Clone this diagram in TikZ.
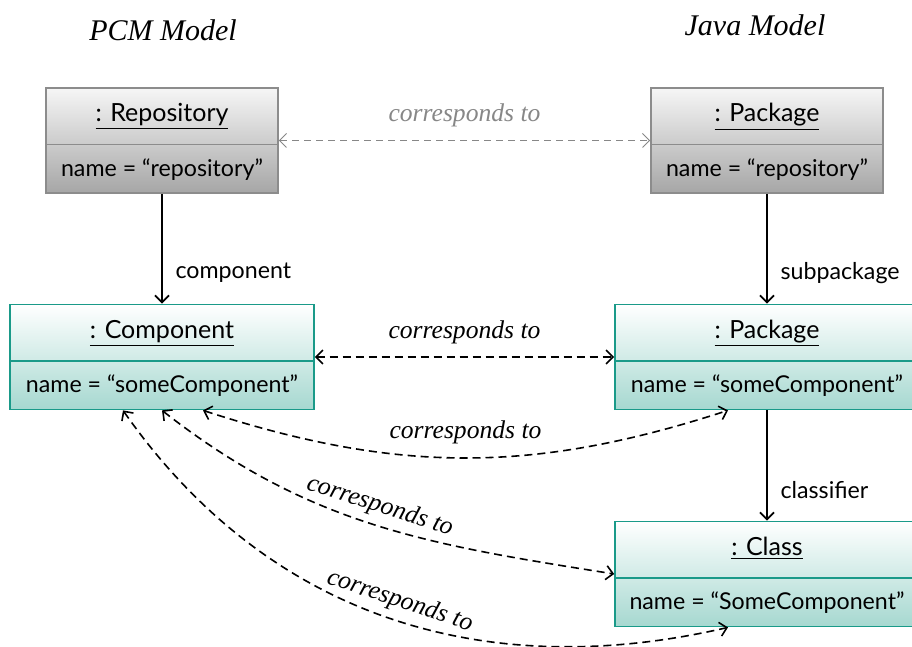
\documentclass[tikz,border=0pt]{standalone}
\usepackage{fontspec}
\setmainfont{Liberation Serif}
\setsansfont{Lato}
\usepackage{tikz}
\usetikzlibrary{shapes.multipart, arrows.meta, positioning, calc}
\definecolor{Teal-1}{RGB}{26,154,137}
\definecolor{Teal-2}{RGB}{166,216,208}
\definecolor{Grey-0}{RGB}{246,246,246}
\definecolor{Grey-1}{RGB}{140,140,140}
\definecolor{Grey-2}{RGB}{166,166,166}
\definecolor{Grey-3}{RGB}{135,135,135}
\newcommand\hdr[1]{\rule[-11pt]{0pt}{27.5pt}{\fontsize{12.5}{15}\selectfont\underline{#1}}}
\newcommand\attr[1]{\rule[-8pt]{0pt}{23.5pt}#1}

\begin{document}
\begin{tikzpicture}[x=0.5pt, y=0.5pt, >={Straight Barb[length=3.5pt, width=7pt]}]
        \tikzset{ obj/.style ={rectangle split, rectangle split parts=2, draw, line width=0.8pt, inner ysep=0pt, inner xsep=4pt, align=center, font=\sffamily\fontsize{11.6}{14}\selectfont } }
        \tikzset{ og/.style ={obj, minimum width=116pt, draw=Grey-1, top color=Grey-0, bottom color=Grey-2 } }
        \tikzset{ ot/.style ={obj, minimum width=152pt, draw=Teal-1, top color=white, bottom color=Teal-2 } }
        \tikzset{ ttl/.style ={font=\itshape\fontsize{15}{18}\selectfont } }
        \tikzset{ lbl/.style ={font=\itshape\fontsize{12.8}{15}\selectfont } }

        \tikzstyle{lnk}=[->, line width=0.9pt]
        \tikzstyle{rel}=[font=\sffamily\fontsize{11.6}{14}\selectfont, right=3pt, pos=0.72]
        \tikzstyle{crsp}=[<->, line width=0.8pt, dash pattern=on 4pt off 2.5pt]
        \tikzstyle{crspg}=[<->, line width=0.5pt, draw=Grey-3, text=Grey-3, dash pattern=on 3.5pt off 2.5pt]

        \useasboundingbox (0,0) rectangle (912,647);

        \node[ttl] (pcm) at (163,617) {PCM Model};
        \node[ttl] (java) at (755,622) {Java Model};

        \node[og] (repo) at (162,506.5) {\hdr{: Repository} \nodepart{two} \attr{name = “repository”}};
        \node[og] (pkga) at (767,506.5) {\hdr{: Package} \nodepart{two} \attr{name = “repository”}};
        \node[ot] (comp) at (162,290) {\hdr{: Component} \nodepart{two} \attr{name = “someComponent”}};
        \node[ot] (pkgb) at (767,290) {\hdr{: Package} \nodepart{two} \attr{name = “someComponent”}};
        \node[ot] (cls) at (767,73) {\hdr{: Class} \nodepart{two} \attr{name = “SomeComponent”}};

        \draw[lnk] (repo.south) -- node[rel] {component} (comp.north);
        \draw[lnk] (pkga.south) -- node[rel] {subpackage} (pkgb.north);
        \draw[lnk] (pkgb.south) -- node[rel] {classifier} (cls.north);

        \draw[crspg] (repo.east) -- node[lbl, above=3pt] {corresponds to} (pkga.west);
        \draw[crsp] (comp.east) -- node[lbl, above=3pt] {corresponds to} (pkgb.west);
        \draw[crsp] ([xshift=20.5pt]comp.south) to[out=-18, in=-162] node[lbl, above=3pt] {corresponds to} ([xshift=-19.5pt]pkgb.south);
        \draw[crsp] (comp.south) to[out=-38, in=171] node[lbl, pos=0.5, above=0pt, sloped] {corresponds to} (cls.west);
        \draw[crsp] ([xshift=-19.5pt]comp.south) to[out=-55, in=193] node[lbl, pos=0.51, above, sloped] {corresponds to} ([xshift=-19.5pt]cls.south);
\end{tikzpicture}
\end{document}
